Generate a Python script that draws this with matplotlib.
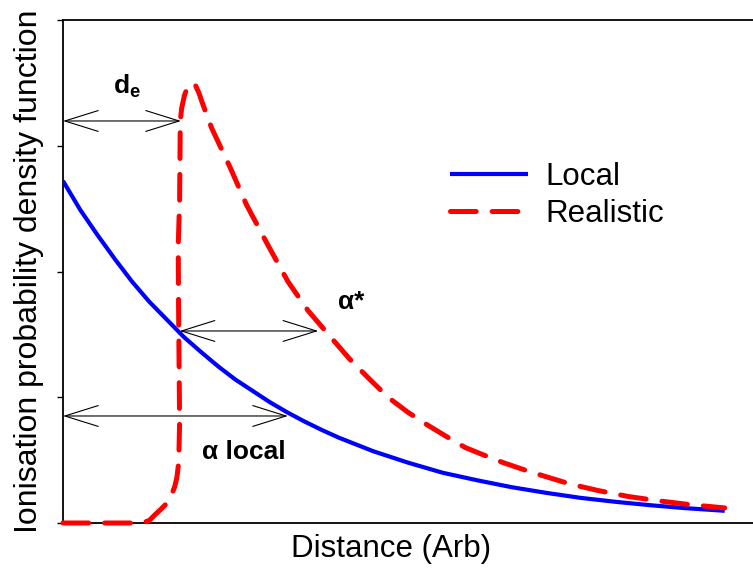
import matplotlib
matplotlib.use("Agg")
import matplotlib.pyplot as plt
from matplotlib.patches import FancyArrowPatch

plt.rcParams['font.family'] = ['Liberation Sans', 'DejaVu Sans']
plt.rcParams['mathtext.fontset'] = 'custom'
plt.rcParams['mathtext.rm'] = 'Liberation Sans'
plt.rcParams['mathtext.bf'] = 'Liberation Sans:bold'
plt.rcParams['mathtext.it'] = 'Liberation Sans:italic'
plt.rcParams['lines.scale_dashes'] = False

# ---- data ----
local_x = [0.0, 0.25, 0.5, 0.75, 1.0, 1.25, 1.5, 1.75, 2.0, 2.25, 2.5, 2.75, 3.0, 3.25,
           3.5, 3.75, 4.0, 4.5, 5.0, 5.5, 6.0, 6.5, 7.0, 7.5, 8.0, 8.5, 9.0, 9.59]
local_y = [2.72, 2.49, 2.29, 2.10, 1.92, 1.76, 1.62, 1.48, 1.36, 1.245, 1.14, 1.05, 0.96,
           0.88, 0.807, 0.74, 0.678, 0.57, 0.48, 0.40, 0.34, 0.285, 0.24, 0.20, 0.169,
           0.142, 0.119, 0.097]

real_x = [0.0, 0.59, 1.145, 1.25, 1.33, 1.42, 1.51, 1.57, 1.62, 1.65, 1.67, 1.68, 1.69,
          1.685, 1.675, 1.67, 1.69, 1.70, 1.72, 1.76, 1.80, 1.865, 1.92, 1.97, 2.02, 2.10,
          2.155, 2.42, 2.66, 2.95, 3.26, 3.55, 3.83, 4.16, 4.45, 4.71, 5.0, 5.28, 5.55,
          5.83, 6.1, 6.38, 6.7, 6.99, 7.35, 7.74, 8.2, 8.65, 9.1, 9.59]
real_y = [0.0, 0.0, 0.0, 0.02, 0.064, 0.11, 0.16, 0.22, 0.29, 0.36, 0.45, 0.55, 0.80,
          1.10, 1.72, 2.20, 2.57, 3.20, 3.30, 3.40, 3.46, 3.50, 3.48, 3.42, 3.34, 3.22,
          3.14, 2.83, 2.53, 2.23, 1.92, 1.69, 1.51, 1.30, 1.14, 1.00, 0.88, 0.78, 0.69,
          0.60, 0.54, 0.48, 0.42, 0.37, 0.31, 0.26, 0.21, 0.175, 0.145, 0.12]

series_labels = ['Local', 'Realistic']
y_ticks = [0, 1, 2, 3, 4]

# arrows: (x_start, x_end, y) and labels: (text, x, y)
arrows = [(0.0, 1.71, 3.197), (1.69, 3.70, 1.527), (0.0, 3.26, 0.851)]
labels = [(r'$\mathbf{d_e}$', 0.93, 3.47), ('α*', 4.17, 1.76), ('α local', 2.62, 0.565)]

fig = plt.figure(figsize=(7.53, 5.69), dpi=100)
ax = fig.add_axes([63/753, 1 - 523/569, 1 - 63/753, (523 - 20)/569])

ax.plot(local_x, local_y, color='#0000ff', lw=3.0, solid_capstyle='butt',
        solid_joinstyle='round', label=series_labels[0], zorder=3)
rl, = ax.plot(real_x, real_y, color='#ff0000', lw=3.6, label=series_labels[1],
              dash_capstyle='round', dash_joinstyle='round', clip_on=False, zorder=3)
rl.set_dashes([18.5, 11.5])

ax.set_xlim(0, 10)
ax.set_ylim(0, 4)
ax.set_yticks(y_ticks)
ax.set_yticklabels([])
ax.set_xticks([])
ax.tick_params(axis='y', direction='out', length=4.5, width=1.0, color='black')
for s in ['left', 'top', 'bottom']:
    ax.spines[s].set_linewidth(1.3)
    ax.spines[s].set_color('black')
ax.spines['right'].set_visible(False)

for x0, x1, y in arrows:
    ap = FancyArrowPatch((x0, y), (x1, y),
                         arrowstyle='<->,head_length=24,head_width=7.5',
                         mutation_scale=1, lw=0.8, color='black', shrinkA=0, shrinkB=0,
                         zorder=4)
    ax.add_patch(ap)

for txt, x, y in labels:
    ax.text(x, y, txt, fontsize=19, fontweight='bold', ha='center', va='center')

ax.set_xlabel('Distance (Arb)', fontsize=22.5)
ax.xaxis.set_label_coords(0.475, -0.022)
ax.set_ylabel('Ionisation probability density function', fontsize=23)
ax.yaxis.set_label_coords(-0.028, 0.5)

leg = ax.legend(loc='upper left', bbox_to_anchor=(450/753, 1 - 162/569),
                bbox_transform=fig.transFigure, frameon=False, fontsize=22.5,
                handlelength=2.5, handletextpad=0.55, labelspacing=0.22,
                borderpad=0, borderaxespad=0)

fig.savefig('out.png', dpi=100)
